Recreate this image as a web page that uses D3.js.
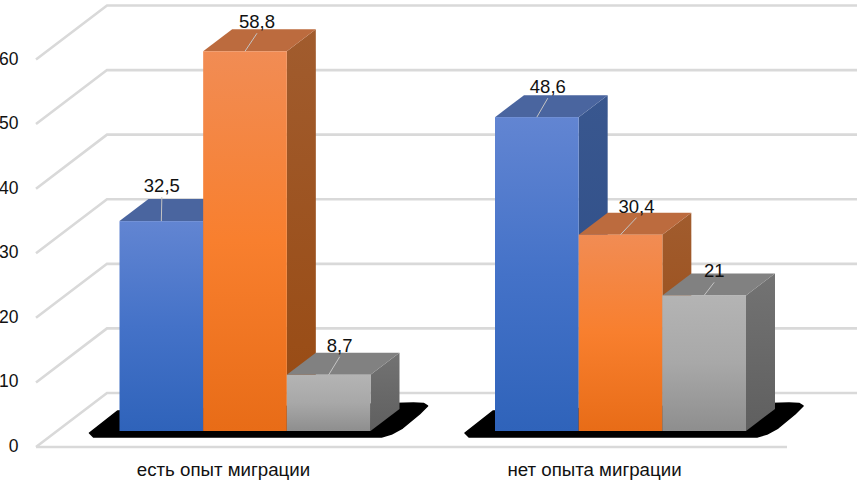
<!DOCTYPE html>
<html><head><meta charset="utf-8">
<script src="https://cdnjs.cloudflare.com/ajax/libs/d3/7.9.0/d3.min.js"></script>
<style>html,body{margin:0;background:#fff}svg{display:block}text{font-family:"Liberation Sans",Arial,sans-serif;fill:#111}</style>
</head><body><svg id="c" width="863" height="480"></svg>
<script>
const categories = ["есть опыт миграции", "нет опыта миграции"];
const seriesNames = ["Ряд 1", "Ряд 2", "Ряд 3"];
const series1 = [32.5, 48.6];
const series2 = [58.8, 30.4];
const series3 = [8.7, 21];
const valueLabels = [["32,5", "48,6"], ["58,8", "30,4"], ["8,7", "21"]];
const tickValues = [0, 10, 20, 30, 40, 50, 60];

const svg = d3.select("#c");
const defs = svg.append("defs");
const DX = 29, DY = -22;
const yBar = d3.scaleLinear().domain([0, 60]).range([431, 43.5]);
const yGrid = d3.scaleLinear().domain([0, 60]).range([393, 5.5]);
const x0 = d3.scaleOrdinal().domain(categories).range([119.5, 495]);
const xS = d3.scaleBand().domain(seriesNames).range([0, 251]);
const palette = [
  {front:["#6285d2","#4472c8","#2f63ba"], side:["#39578f","#2c4c86"], top:"#4a659f"},
  {front:["#f18c54","#f87f2e","#e86c17"], side:["#a15c2e","#984a12"], top:"#bc6b3e"},
  {front:["#b4b4b4","#a8a8a8","#8e8e8e"], side:["#737373","#5f5f5f"], top:"#818181"}
];
palette.forEach((p,i)=>{
  const g = defs.append("linearGradient").attr("id","f"+i).attr("x1",0).attr("y1",0).attr("x2",0).attr("y2",1);
  p.front.forEach((c,k)=>g.append("stop").attr("offset",k/2).attr("stop-color",c));
  const s = defs.append("linearGradient").attr("id","s"+i).attr("x1",0).attr("y1",0).attr("x2",0).attr("y2",1);
  p.side.forEach((c,k)=>s.append("stop").attr("offset",k).attr("stop-color",c));
});

// gridlines
const gridCol = "#d9d9d9";
const wallL = 107, frontL = 36, backR = 857, frontR = 787;
const grid = svg.append("g").attr("fill","none").attr("stroke",gridCol).attr("stroke-width",2.6);
tickValues.forEach(v=>{
  const y = yGrid(v);
  grid.append("path").attr("d", `M${frontL},${y+54}L${wallL},${y}L${backR},${y}`);
});
grid.append("path").attr("d", `M${frontL},${yGrid(0)+54}L${frontR},${yGrid(0)+54}`);

// shadows
const shadowLine = d3.line().curve(d3.curveLinearClosed);
categories.forEach((c,i)=>{
  const l = x0(c);
  const pts = [[l-30,433],[l-2,411],[l+294,403],[l+304,403.5],[l+308,406],[l+300,414],[l+283,428],[l+272,434],[l+262,437],[l-26,437]];
  svg.append("path").attr("d", shadowLine(pts)).attr("fill","#000").attr("stroke","#000").attr("stroke-width",1.5).attr("stroke-linejoin","round");
});

// bars
const allSeries = [series1, series2, series3];
const w = xS.bandwidth();
allSeries.forEach((vals,si)=>{
  vals.forEach((v,ci)=>{
    const x = x0(categories[ci]) + xS(seriesNames[si]);
    const yt = yBar(v), yb = yBar(0);
    const g = svg.append("g");
    g.append("path").attr("fill",`url(#s${si})`).attr("d",`M${x+w},${yt}L${x+w+DX},${yt+DY}L${x+w+DX},${yb+DY}L${x+w},${yb}Z`);
    g.append("path").attr("fill",palette[si].top).attr("d",`M${x},${yt}L${x+DX},${yt+DY}L${x+w+DX},${yt+DY}L${x+w},${yt}Z`);
    g.append("rect").attr("x",x).attr("y",yt).attr("width",w).attr("height",yb-yt).attr("fill",`url(#f${si})`);
  });
});

// value labels with leader lines
const labelNudge = [[[-11.5,-7],[-1,-2]],[[0,-1],[4,0]],[[-1,-1],[-2,4]]];
allSeries.forEach((vals,si)=>{
  vals.forEach((v,ci)=>{
    const x = x0(categories[ci]) + xS(seriesNames[si]) + w/2;
    const yt = yBar(v);
    const [nx,ny] = labelNudge[si][ci];
    const lx = x + 12 + nx, ly = yt - 22 + ny;
    svg.append("line").attr("x1",x).attr("y1",yt).attr("x2",lx).attr("y2",ly+5)
      .attr("stroke","#c4c4c4").attr("stroke-width",1);
    svg.append("text").attr("x",lx).attr("y",ly).attr("text-anchor","middle").attr("font-size",18.5).text(valueLabels[si][ci]);
  });
});

// axis labels
const axisLabels = svg.append("g").attr("font-size",17.5);
tickValues.forEach(v=>{
  axisLabels.append("text").attr("x",18.5).attr("y",yGrid(v)+59).attr("text-anchor","end").text(v);
});
const catCenters = [223.5, 594.5];
categories.forEach((c,i)=>{
  svg.append("text").attr("x",catCenters[i]).attr("y",476).attr("text-anchor","middle").attr("font-size",18.7).text(c);
});
</script></body></html>
